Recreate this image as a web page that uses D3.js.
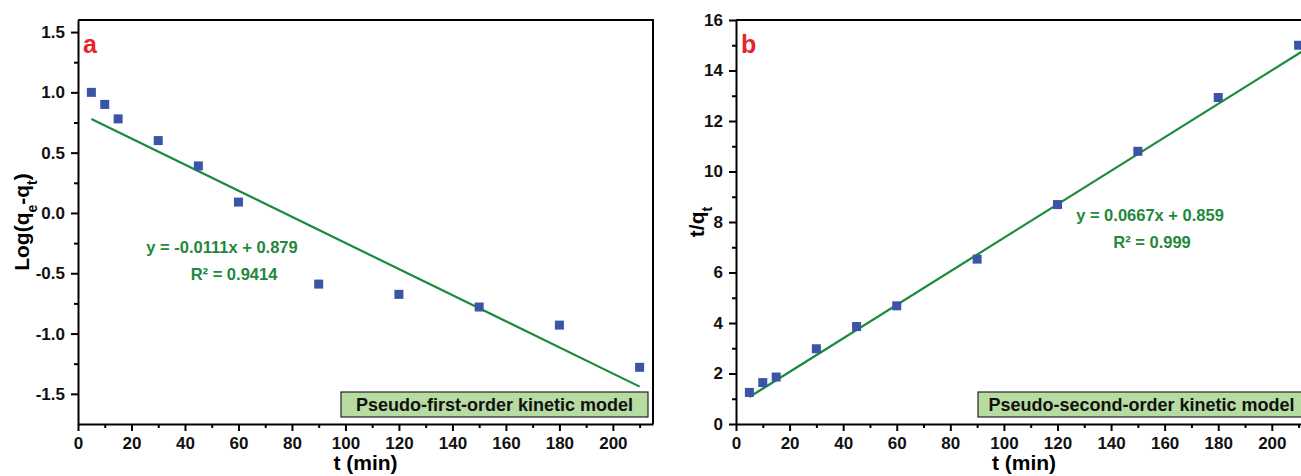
<!DOCTYPE html>
<html>
<head>
    <script src="https://d3js.org/d3.v7.min.js"></script>
    <style>
        body { margin: 0; background: #fff; }
        svg { display: block; font-family: Arial, "Liberation Sans", sans-serif; }
        .tick text { font-weight: bold; font-size: 17px; fill: #111; }
        .domain, .tick line { stroke: #000; stroke-width: 2px; }
    </style>
</head>
<body>
<script>
// time points (min), shared by both panels
const times = [5, 10, 15, 30, 45, 60, 90, 120, 150, 180, 210];
// panel a: Log(qe - qt)
const logValues = [1.0, 0.9, 0.78, 0.6, 0.39, 0.09, -0.59, -0.675, -0.78, -0.93, -1.28];
// panel b: t/qt
const tqValues = [1.25, 1.64, 1.86, 2.98, 3.86, 4.68, 6.53, 8.69, 10.8, 12.93, 15.0];
// fitted lines as drawn (start / end points)
const fitA = [[5, 0.78], [210, -1.44]];
const fitB = [[5, 1.07], [215, 15.0]];
const xTicks = [0, 20, 40, 60, 80, 100, 120, 140, 160, 180, 200];
const xMinor = [10, 30, 50, 70, 90, 110, 130, 150, 170, 190, 210];
const yTicksA = [-1.5, -1.0, -0.5, 0.0, 0.5, 1.0, 1.5];
const yMinorA = [-1.25, -0.75, -0.25, 0.25, 0.75, 1.25];
const yTicksB = [0, 2, 4, 6, 8, 10, 12, 14, 16];
const yMinorB = [1, 3, 5, 7, 9, 11, 13, 15];

const width = 1301, height = 476;
const svg = d3.select('body').append('svg')
    .attr('width', width)
    .attr('height', height);

function panel(opts) {
    const x = d3.scaleLinear().domain([0, 215]).range([opts.left, opts.right]);
    const y = d3.scaleLinear().domain(opts.yDomain).range([424, 20]);
    const g = svg.append('g');

    // frame top / right
    g.append('path')
        .attr('d', `M${opts.left},20 H${opts.right} V424`)
        .attr('fill', 'none')
        .attr('stroke', '#000')
        .attr('stroke-width', 2);

    // minor ticks
    g.append('g')
        .attr('transform', 'translate(0,424)')
        .call(d3.axisBottom(x).tickValues(xMinor).tickSize(4).tickFormat(''))
        .call(a => a.select('.domain').remove());
    g.append('g')
        .attr('transform', `translate(${opts.left},0)`)
        .call(d3.axisLeft(y).tickValues(opts.yMinor).tickSize(4).tickFormat(''))
        .call(a => a.select('.domain').remove());

    // major axes
    g.append('g')
        .attr('transform', 'translate(0,424)')
        .call(d3.axisBottom(x).tickValues(xTicks).tickSize(7).tickSizeOuter(0).tickPadding(6));
    g.append('g')
        .attr('transform', `translate(${opts.left},0)`)
        .call(d3.axisLeft(y).tickValues(opts.yTicks).tickSize(7).tickSizeOuter(0).tickPadding(6)
            .tickFormat(opts.yFormat));

    // fit line
    g.append('path')
        .attr('d', d3.line().x(d => x(d[0])).y(d => y(d[1]))(opts.fit))
        .attr('stroke', '#1a8a3c')
        .attr('stroke-width', 2.2)
        .attr('fill', 'none');

    // points
    g.selectAll('rect.pt')
        .data(times.map((t, i) => [t, opts.values[i]]))
        .enter()
        .append('rect')
        .attr('class', 'pt')
        .attr('x', d => x(d[0]) - 4.5)
        .attr('y', d => y(d[1]) - 4.5)
        .attr('width', 9)
        .attr('height', 9)
        .attr('fill', '#3a54a6');

    // panel letter
    g.append('text')
        .attr('x', opts.left + 5)
        .attr('y', 53)
        .attr('fill', '#e8232b')
        .style('font-size', '25px')
        .style('font-weight', 'bold')
        .text(opts.letter);

    // equation
    const eq = g.append('g')
        .attr('fill', '#23883c')
        .style('font-size', '16.5px')
        .style('font-weight', 'bold')
        .attr('text-anchor', 'middle');
    eq.append('text').attr('x', opts.eqX).attr('y', opts.eqY).text(opts.eq);
    eq.append('text').attr('x', opts.eqX + opts.r2Dx).attr('y', opts.eqY + 27).text(opts.r2);

    // model label box
    g.append('rect')
        .attr('x', opts.boxX)
        .attr('y', 392)
        .attr('width', opts.boxW)
        .attr('height', 25)
        .attr('fill', '#b6dca2')
        .attr('stroke', '#222')
        .attr('stroke-width', 1.2);
    g.append('text')
        .attr('x', opts.boxX + opts.boxW / 2)
        .attr('y', 411)
        .attr('text-anchor', 'middle')
        .style('font-size', '18px')
        .style('font-weight', 'bold')
        .attr('fill', '#111')
        .text(opts.model);

    // x axis title
    g.append('text')
        .attr('x', (opts.left + opts.right) / 2)
        .attr('y', 470)
        .attr('text-anchor', 'middle')
        .style('font-size', '21px')
        .style('font-weight', 'bold')
        .text('t (min)');

    // y axis title
    const yt = g.append('text')
        .attr('transform', `translate(${opts.yTitleX},${opts.yTitleY}) rotate(-90)`)
        .attr('text-anchor', 'middle')
        .style('font-size', '21px')
        .style('font-weight', 'bold');
    opts.yTitle(yt);
}

panel({
    left: 78, right: 653,
    yDomain: [-1.75, 1.6],
    yTicks: yTicksA, yMinor: yMinorA,
    yFormat: d => d.toFixed(1),
    values: logValues, fit: fitA,
    letter: 'a',
    eq: 'y = -0.0111x + 0.879', r2: 'R² = 0.9414',
    eqX: 222, eqY: 253, r2Dx: 12,
    boxX: 341, boxW: 307,
    model: 'Pseudo-first-order kinetic model',
    yTitleX: 29, yTitleY: 222,
    yTitle: t => {
        t.append('tspan').text('Log(q');
        t.append('tspan').attr('baseline-shift', 'sub').style('font-size', '14px').text('e');
        t.append('tspan').text('-q');
        t.append('tspan').attr('baseline-shift', 'sub').style('font-size', '14px').text('t');
        t.append('tspan').text(')');
    }
});

panel({
    left: 736, right: 1312,
    yDomain: [0, 16],
    yTicks: yTicksB, yMinor: yMinorB,
    yFormat: d => d,
    values: tqValues, fit: fitB,
    letter: 'b',
    eq: 'y = 0.0667x + 0.859', r2: 'R² = 0.999',
    eqX: 1150, eqY: 221, r2Dx: 2,
    boxX: 978, boxW: 327,
    model: 'Pseudo-second-order kinetic model',
    yTitleX: 704, yTitleY: 222,
    yTitle: t => {
        t.append('tspan').text('t/q');
        t.append('tspan').attr('baseline-shift', 'sub').style('font-size', '14px').text('t');
    }
});
</script>
</body>
</html>
